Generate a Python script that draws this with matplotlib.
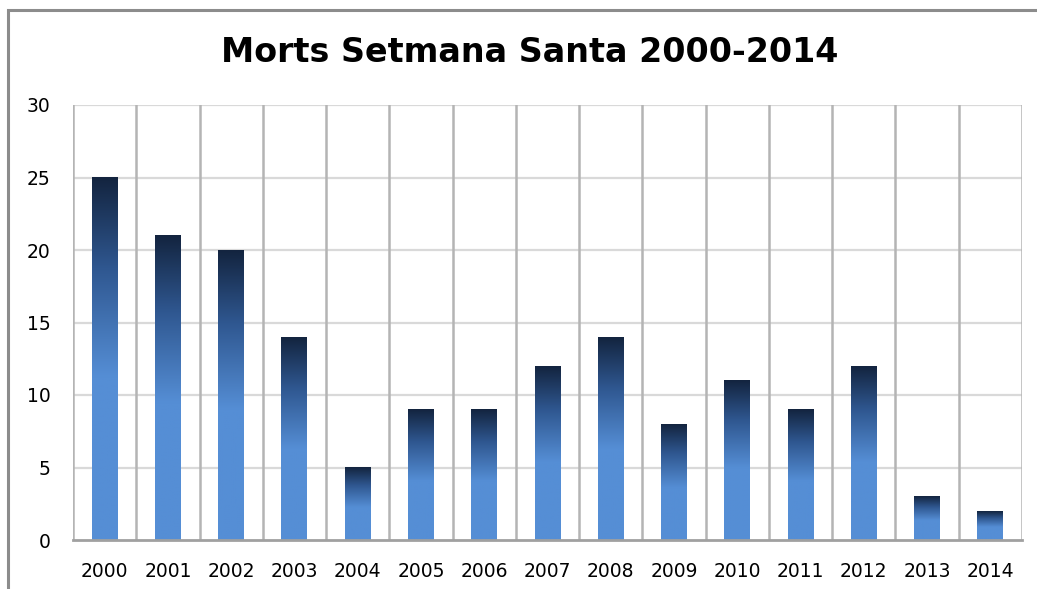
import matplotlib
matplotlib.use("Agg")
import matplotlib.pyplot as plt
import numpy as np
from matplotlib.colors import LinearSegmentedColormap
from matplotlib.patches import Rectangle

years = ["2000", "2001", "2002", "2003", "2004", "2005", "2006", "2007",
         "2008", "2009", "2010", "2011", "2012", "2013", "2014"]
deaths = [25, 21, 20, 14, 5, 9, 9, 12, 14, 8, 11, 9, 12, 3, 2]
title = "Morts Setmana Santa 2000-2014"

fig = plt.figure(figsize=(10.37, 5.89), dpi=100)
ax = fig.add_axes([73/1037, 1-540/589, (1022-73)/1037, (540-105)/589])

# figure border
fig.patches.append(Rectangle((8/1037, -0.1), 1.2, 1-10/589+0.1, transform=fig.transFigure,
                             fill=False, edgecolor="#8c8c8c", linewidth=2.2, zorder=0))

n = len(years)
x = np.arange(n)
ax.set_xlim(-0.5, n-0.5)
ax.set_ylim(0, 30)
ax.set_yticks(range(0, 31, 5))
ax.set_xticks(x)
ax.set_xticklabels(years)

# horizontal gridlines
for v in range(5, 31, 5):
    ax.axhline(v, color="#d9d9d9", linewidth=1.6, zorder=0)
# vertical category separators
for b in np.arange(-0.5, n, 1.0):
    ax.axvline(b, color="#b4b4b4", linewidth=1.8, zorder=0.5)

cmap = LinearSegmentedColormap.from_list("g", [(0.0, "#558ED5"), (0.45, "#558ED5"),
                                              (0.75, "#2f5790"), (1.0, "#13243f")])
grad = np.linspace(0, 1, 256).reshape(-1, 1)
width = 0.41
bars = ax.bar(x, deaths, width=width, color="none", zorder=2)
for bar, h in zip(bars, deaths):
    x0 = bar.get_x()
    ax.imshow(grad, cmap=cmap, aspect="auto", origin="lower",
              extent=(x0, x0 + width, 0, h), zorder=2, interpolation="bilinear")
ax.set_xlim(-0.5, n-0.5)
ax.set_ylim(0, 30)

for s in ["top", "right", "left"]:
    ax.spines[s].set_visible(False)
ax.spines["bottom"].set_color("#a0a0a0")
ax.spines["bottom"].set_linewidth(2)
ax.spines["bottom"].set_zorder(3)
ax.tick_params(axis="both", length=0, labelsize=13.5, colors="black")
ax.tick_params(axis="x", pad=16)
ax.tick_params(axis="y", pad=16)

fig.text(530/1037, 1-52/589, title, ha="center", va="center",
         fontsize=24, fontweight="bold", family="DejaVu Sans")

fig.savefig("out.png", dpi=100)
